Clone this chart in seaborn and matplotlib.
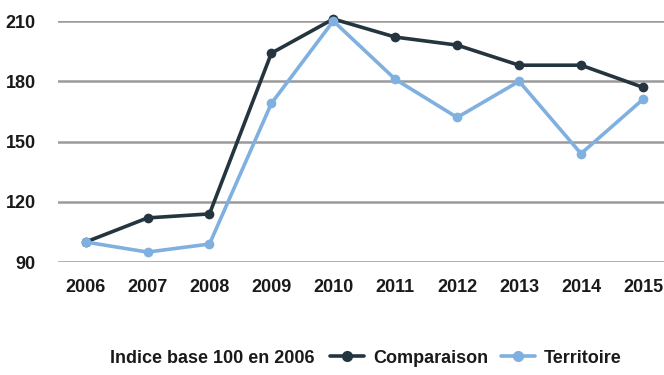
import matplotlib
matplotlib.use("Agg")
import matplotlib.pyplot as plt
import pandas as pd
import seaborn as sns

years = ["2006", "2007", "2008", "2009", "2010", "2011", "2012", "2013", "2014", "2015"]
comparaison = [100, 112, 114, 194, 211, 202, 198, 188, 188, 177]
territoire = [100, 95, 99, 169, 210, 181, 162, 180, 144, 171]
series_names = ["Comparaison", "Territoire"]
colors = ["#243540", "#7fb0e0"]

df = pd.DataFrame({
    "year": years * 2,
    "value": comparaison + territoire,
    "serie": [series_names[0]] * len(years) + [series_names[1]] * len(years),
})

sns.set_style("white")
plt.rcParams["font.family"] = ["Liberation Sans", "DejaVu Sans"]

fig = plt.figure(figsize=(6.64, 3.75), dpi=100)
ax = fig.add_axes([0.087, 0.301, 0.913, 0.643])

sns.lineplot(data=df, x="year", y="value", hue="serie", hue_order=series_names,
             palette=colors, marker="o", markersize=7, markeredgewidth=0,
             linewidth=2.6, sort=False, ax=ax, legend=False)

for c in ax.lines:
    c.set_clip_on(False)
    c.set_zorder(3)

ax.set_ylim(90, 210)
ax.set_yticks([90, 120, 150, 180, 210])
ax.set_xlim(-0.45, 9.34)
ax.grid(axis="y", color="#9a9a9a", linewidth=1.8)
ax.set_axisbelow(True)
sns.despine(ax=ax, left=True, bottom=True)
ax.set_xlabel("")
ax.set_ylabel("")
ax.tick_params(axis="both", length=0, labelsize=13)
ax.tick_params(axis="x", pad=12)
ax.tick_params(axis="y", pad=16)
for lab in ax.get_xticklabels() + ax.get_yticklabels():
    lab.set_fontweight("bold")
    lab.set_color("#1a1a1a")

fig.text(0.166, 0.045, "Indice base 100 en 2006", fontsize=13, fontweight="bold",
         color="#1a1a1a", va="center")
handles = [plt.Line2D([], [], color=col, marker="o", markersize=7, linewidth=2.6)
           for col in colors]
leg = fig.legend(handles, series_names, loc="center left", bbox_to_anchor=(0.472, 0.045),
                 ncol=2, frameon=False, handlelength=1.9, columnspacing=0.7,
                 handletextpad=0.5, prop={"size": 13, "weight": "bold"})
for t in leg.get_texts():
    t.set_color("#1a1a1a")

fig.savefig("out.png", dpi=100)
